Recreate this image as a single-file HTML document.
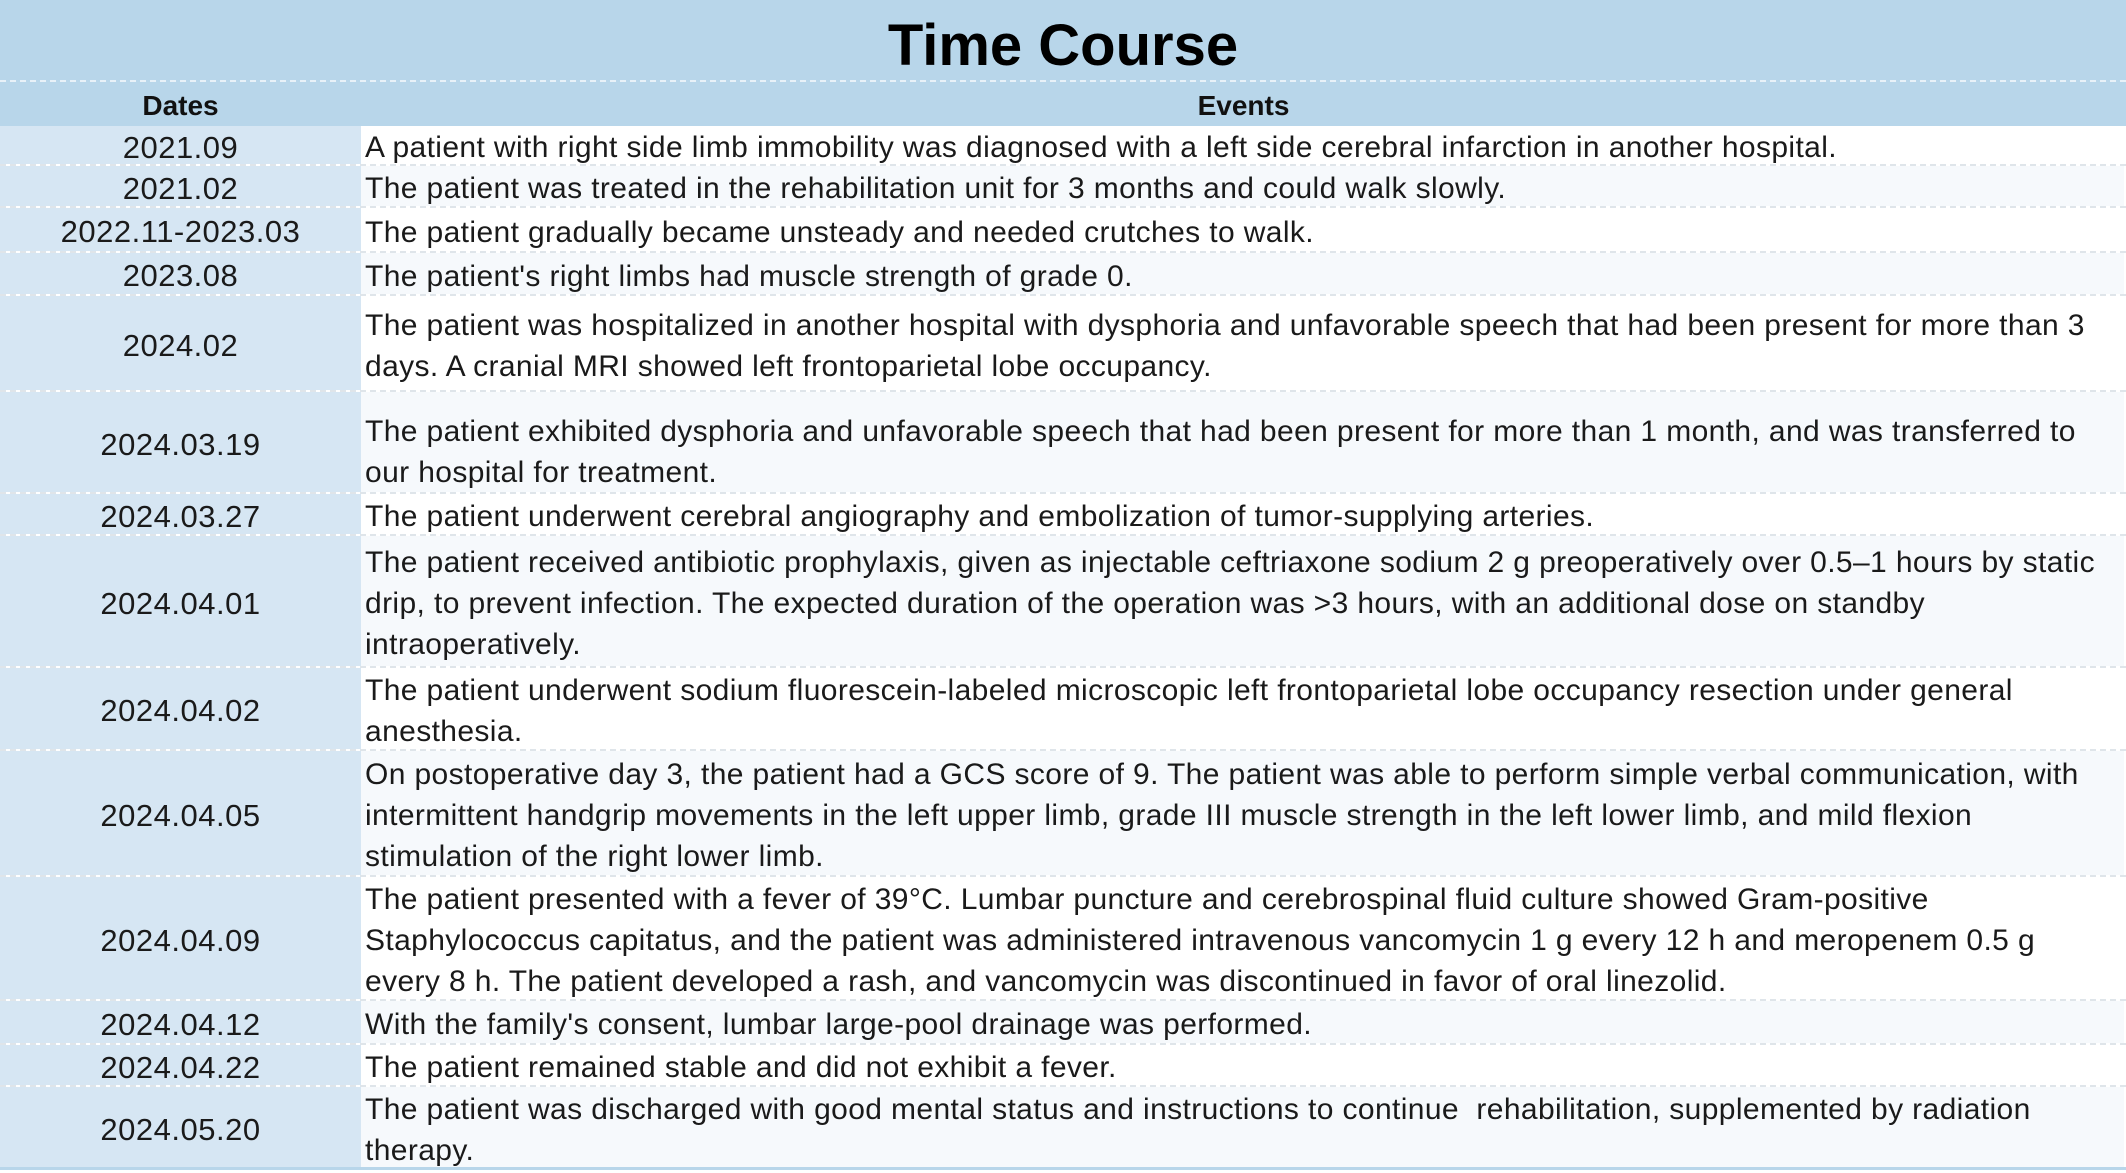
<!DOCTYPE html>
<html><head><meta charset="utf-8"><style>
html,body{margin:0;padding:0}
body{width:2126px;height:1173px;position:relative;overflow:hidden;background:#fff;font-family:"Liberation Sans","Noto Sans CJK SC",sans-serif;color:#1a1a1a}
.title{position:absolute;left:0;top:0;width:2126px;height:82px;background:#b8d6ea;border-bottom:2px dashed #e8f1f8;box-sizing:border-box;text-align:center;font-weight:bold;font-size:58px;line-height:92px;color:#000}
.hdr{position:absolute;top:82px;height:44px;background:#b8d6ea;font-weight:bold;font-size:28px;line-height:48px;text-align:center;color:#111}
.row{position:absolute;left:0;width:2126px;border-bottom:2px dashed #dfe5ea;box-sizing:border-box}
.d{position:absolute;left:0;top:0;bottom:0;width:361px;background:#d6e6f3;display:flex;align-items:center;justify-content:center;font-size:31px;letter-spacing:0.5px;padding-top:5px;box-sizing:border-box}
.e{position:absolute;left:361px;right:2px;top:0;bottom:0;display:flex;align-items:center;padding-left:4px;padding-top:5px;box-sizing:border-box;font-size:30px;letter-spacing:0.38px;line-height:41px;white-space:nowrap}
.alt .e{background:#f6f9fc}
</style></head><body>
<div class="title">Time Course</div>
<div class="hdr" style="left:0;width:361px">Dates</div>
<div class="hdr" style="left:361px;width:1765px">Events</div>

<div class="row" style="top:126px;height:40px"><div class="d">2021.09</div><div class="e">A patient with right side limb immobility was diagnosed with a left side cerebral infarction in another hospital.</div></div>
<div class="row alt" style="top:166px;height:42px"><div class="d">2021.02</div><div class="e">The patient was treated in the rehabilitation unit for 3 months and could walk slowly.</div></div>
<div class="row" style="top:208px;height:45px"><div class="d">2022.11-2023.03</div><div class="e">The patient gradually became unsteady and needed crutches to walk.</div></div>
<div class="row alt" style="top:253px;height:43px"><div class="d">2023.08</div><div class="e">The patient's right limbs had muscle strength of grade 0.</div></div>
<div class="row" style="top:296px;height:96px"><div class="d">2024.02</div><div class="e"><div>The patient was hospitalized in another hospital with dysphoria and unfavorable speech that had been present for more than 3<br>days. A cranial MRI showed left frontoparietal lobe occupancy.</div></div></div>
<div class="row alt" style="top:392px;height:102px"><div class="d">2024.03.19</div><div class="e"><div style="margin-top:14px">The patient exhibited dysphoria and unfavorable speech that had been present for more than 1 month, and was transferred to<br>our hospital for treatment.</div></div></div>
<div class="row" style="top:494px;height:42px"><div class="d">2024.03.27</div><div class="e">The patient underwent cerebral angiography and embolization of tumor-supplying arteries.</div></div>
<div class="row alt" style="top:536px;height:132px"><div class="d">2024.04.01</div><div class="e"><div>The patient received antibiotic prophylaxis, given as injectable ceftriaxone sodium 2 g preoperatively over 0.5–1 hours by static<br>drip, to prevent infection. The expected duration of the operation was &gt;3 hours, with an additional dose on standby<br>intraoperatively.</div></div></div>
<div class="row" style="top:668px;height:83px"><div class="d">2024.04.02</div><div class="e"><div>The patient underwent sodium fluorescein-labeled microscopic left frontoparietal lobe occupancy resection under general<br>anesthesia.</div></div></div>
<div class="row alt" style="top:751px;height:126px"><div class="d">2024.04.05</div><div class="e"><div>On postoperative day 3, the patient had a GCS score of 9. The patient was able to perform simple verbal communication, with<br>intermittent handgrip movements in the left upper limb, grade III muscle strength in the left lower limb, and mild flexion<br>stimulation of the right lower limb.</div></div></div>
<div class="row" style="top:877px;height:124px"><div class="d">2024.04.09</div><div class="e"><div>The patient presented with a fever of 39°C. Lumbar puncture and cerebrospinal fluid culture showed Gram-positive<br>Staphylococcus capitatus, and the patient was administered intravenous vancomycin 1 g every 12 h and meropenem 0.5 g<br>every 8 h. The patient developed a rash, and vancomycin was discontinued in favor of oral linezolid.</div></div></div>
<div class="row alt" style="top:1001px;height:44px"><div class="d">2024.04.12</div><div class="e">With the family's consent, lumbar large-pool drainage was performed.</div></div>
<div class="row" style="top:1045px;height:42px"><div class="d">2024.04.22</div><div class="e">The patient remained stable and did not exhibit a fever.</div></div>
<div class="row alt" style="top:1087px;height:83px;border-bottom:3px solid #b8d6ea"><div class="d">2024.05.20</div><div class="e"><div>The patient was discharged with good mental status and instructions to continue&nbsp; rehabilitation, supplemented by radiation<br>therapy.</div></div></div>
</body></html>
